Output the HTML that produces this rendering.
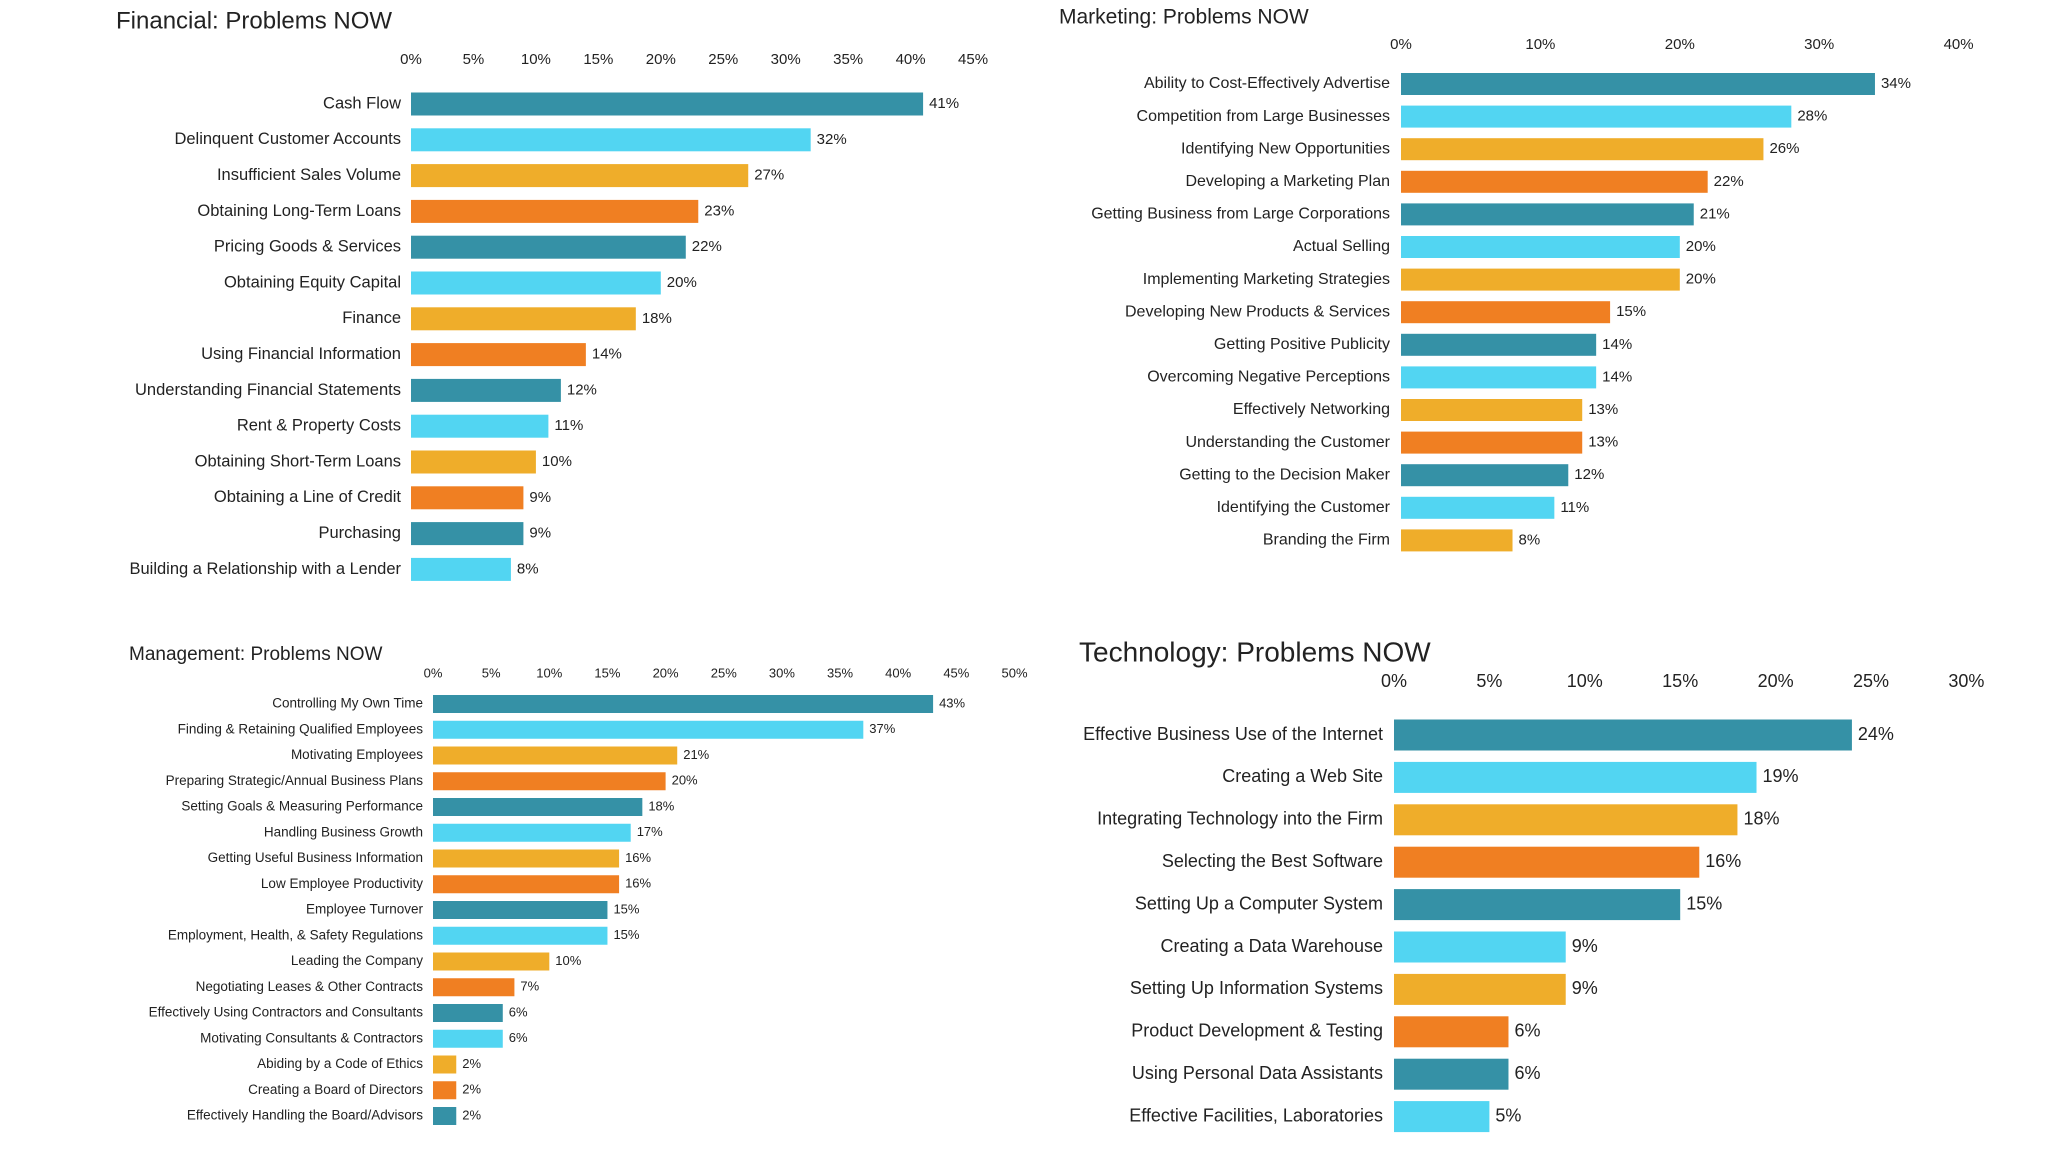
<!DOCTYPE html>
<html><head><meta charset="utf-8"><style>
html,body{margin:0;padding:0;background:#fff;}
svg{display:block;font-family:"Liberation Sans",sans-serif;}
</style></head><body>
<svg id="root" width="2048" height="1152" viewBox="0 0 2048 1152"></svg>
<script>
const COLORS=["#3591a6","#52d5f2","#efad2a","#f07f22"];
const finCategories=["Cash Flow","Delinquent Customer Accounts","Insufficient Sales Volume","Obtaining Long-Term Loans","Pricing Goods & Services","Obtaining Equity Capital","Finance","Using Financial Information","Understanding Financial Statements","Rent & Property Costs","Obtaining Short-Term Loans","Obtaining a Line of Credit","Purchasing","Building a Relationship with a Lender"];
const finValues=[41,32,27,23,22,20,18,14,12,11,10,9,9,8];
const finTicks=[0,5,10,15,20,25,30,35,40,45];
const mktCategories=["Ability to Cost-Effectively Advertise","Competition from Large Businesses","Identifying New Opportunities","Developing a Marketing Plan","Getting Business from Large Corporations","Actual Selling","Implementing Marketing Strategies","Developing New Products & Services","Getting Positive Publicity","Overcoming Negative Perceptions","Effectively Networking","Understanding the Customer","Getting to the Decision Maker","Identifying the Customer","Branding the Firm"];
const mktValues=[34,28,26,22,21,20,20,15,14,14,13,13,12,11,8];
const mktTicks=[0,10,20,30,40];
const mgmtCategories=["Controlling My Own Time","Finding & Retaining Qualified Employees","Motivating Employees","Preparing Strategic/Annual Business Plans","Setting Goals & Measuring Performance","Handling Business Growth","Getting Useful Business Information","Low Employee Productivity","Employee Turnover","Employment, Health, & Safety Regulations","Leading the Company","Negotiating Leases & Other Contracts","Effectively Using Contractors and Consultants","Motivating Consultants & Contractors","Abiding by a Code of Ethics","Creating a Board of Directors","Effectively Handling the Board/Advisors"];
const mgmtValues=[43,37,21,20,18,17,16,16,15,15,10,7,6,6,2,2,2];
const mgmtTicks=[0,5,10,15,20,25,30,35,40,45,50];
const techCategories=["Effective Business Use of the Internet","Creating a Web Site","Integrating Technology into the Firm","Selecting the Best Software","Setting Up a Computer System","Creating a Data Warehouse","Setting Up Information Systems","Product Development & Testing","Using Personal Data Assistants","Effective Facilities, Laboratories"];
const techValues=[24,19,18,16,15,9,9,6,6,5];
const techTicks=[0,5,10,15,20,25,30];

const NS="http://www.w3.org/2000/svg";
const root=document.getElementById('root');
function mk(tag,attrs,parent,text){const e=document.createElementNS(NS,tag);for(const k in attrs)e.setAttribute(k,attrs[k]);if(text!==undefined)e.textContent=text;parent.appendChild(e);return e;}

function chart(cfg,cats,vals,ticks){
  const g=mk('g',{},root);
  
  
  const xs=v=>cfg.x0+v*cfg.per;
  const ys=i=>cfg.y0+i*cfg.step;
  const t=mk('text',{x:cfg.tx,y:cfg.ty,'font-size':cfg.tfs,fill:'#222','dominant-baseline':'middle'},g,cfg.title);
  
  
  ticks.forEach(v=>{
    const e=mk('text',{x:xs(v),y:cfg.ticky,'font-size':cfg.kfs,fill:'#222','text-anchor':'middle','dominant-baseline':'middle'},g,v+'%');
    
    
  });
  cats.forEach((c,i)=>{
    const y=ys(i);
    const l=mk('text',{x:cfg.lx,y:y,'font-size':cfg.lfs,fill:'#222','text-anchor':'end','dominant-baseline':'middle'},g,c);
    
    
    const r=mk('rect',{x:xs(0),y:y-cfg.bh/2,width:xs(vals[i])-xs(0),height:cfg.bh,fill:COLORS[i%4]},g);
    
    
    const v=mk('text',{x:xs(vals[i])+6,y:y,'font-size':cfg.vfs,fill:'#222','dominant-baseline':'middle'},g,vals[i]+'%');
    
    
  });
}
chart({name:'financial-chart',title:'Financial: Problems NOW',tx:116,ty:22,tfs:24,x0:411,per:12.49,y0:104,step:35.8,bh:23,ticky:60,kfs:15,lx:401,lfs:16.5,vfs:15},finCategories,finValues,finTicks);
chart({name:'marketing-chart',title:'Marketing: Problems NOW',tx:1059,ty:18,tfs:21,x0:1401,per:13.94,y0:84,step:32.6,bh:22,ticky:45,kfs:15,lx:1390,lfs:16,vfs:15},mktCategories,mktValues,mktTicks);
chart({name:'management-chart',title:'Management: Problems NOW',tx:129,ty:655,tfs:19,x0:433,per:11.63,y0:704,step:25.75,bh:18,ticky:674,kfs:13,lx:423,lfs:13.5,vfs:13},mgmtCategories,mgmtValues,mgmtTicks);
chart({name:'technology-chart',title:'Technology: Problems NOW',tx:1079,ty:654,tfs:28,x0:1394,per:19.08,y0:735,step:42.4,bh:31,ticky:682,kfs:18,lx:1383,lfs:18,vfs:18},techCategories,techValues,techTicks);
</script>
</body></html>
